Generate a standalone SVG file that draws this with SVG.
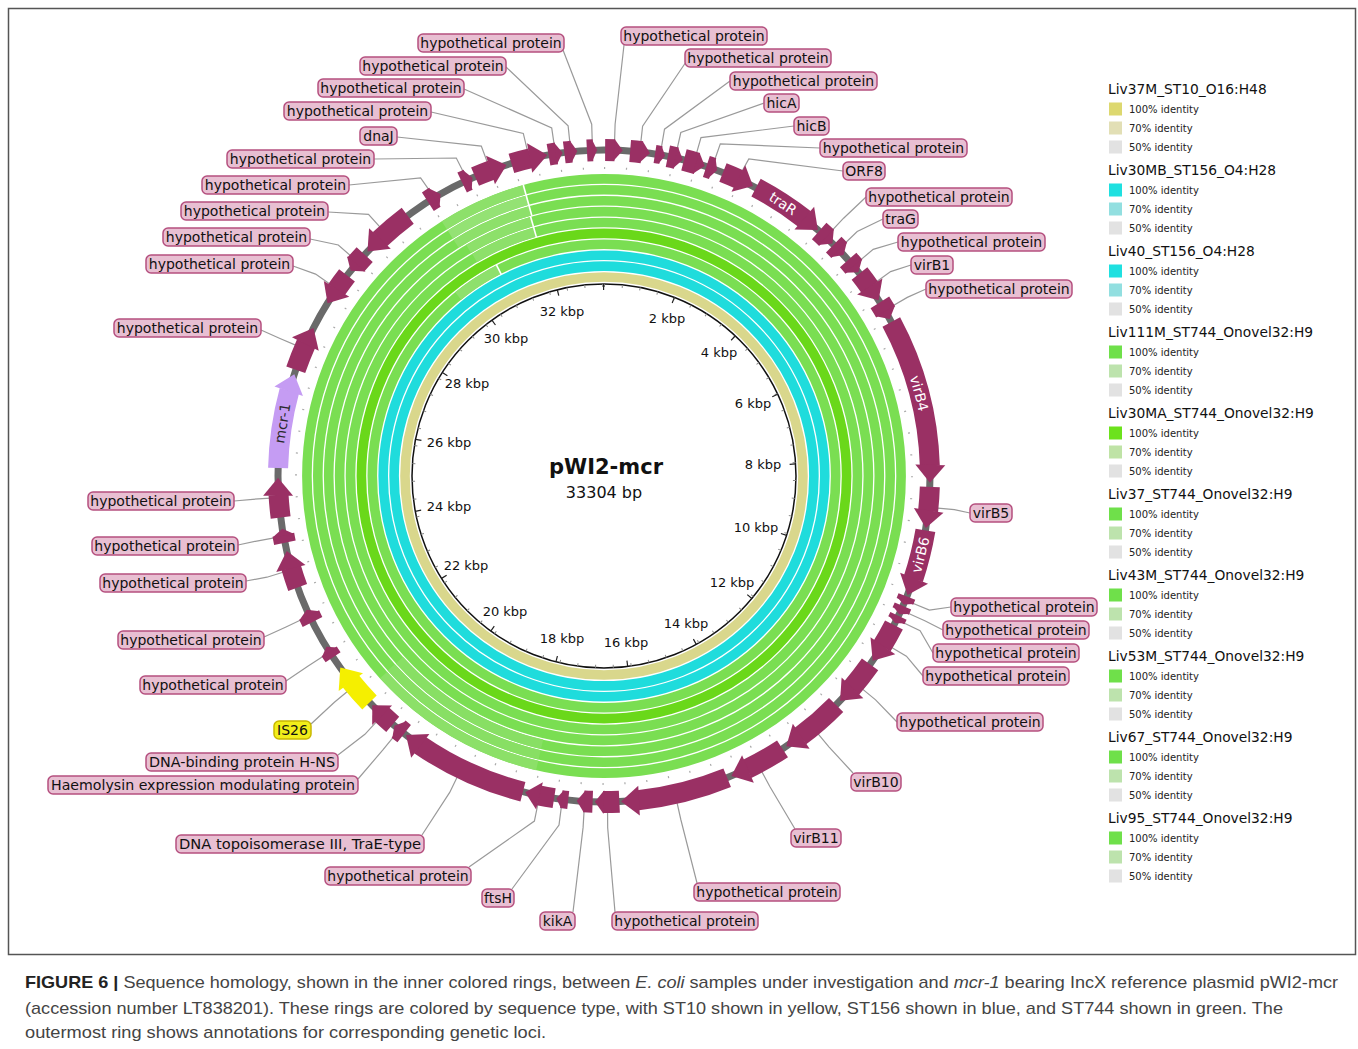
<svg xmlns="http://www.w3.org/2000/svg" xmlns:xlink="http://www.w3.org/1999/xlink" width="1358" height="1049" viewBox="0 0 1358 1049">
<style>
.b{fill:none;stroke:#9a3064;stroke-width:20}
.bs{fill:none;stroke:#9a3064;stroke-width:22}
.bt{fill:none;stroke:#9a3064;stroke-width:18}
.h{fill:#9a3064}
.lr{fill:#e8bfd2;stroke:#b5507f;stroke-width:1.5}
.lt{font-family:"DejaVu Sans",sans-serif;font-size:14px;fill:#111;text-anchor:middle}
.it{font-family:"DejaVu Sans",sans-serif;font-size:14px;fill:#fff;text-anchor:middle}
.cn{fill:none;stroke:#9a9a9a;stroke-width:1.2}
.kb{font-family:"DejaVu Sans",sans-serif;font-size:13px;fill:#111;text-anchor:middle}
.ring{fill:none;stroke-width:9.6}
.lgt{font-family:"DejaVu Sans",sans-serif;font-size:13.8px;fill:#111}
.lgi{font-family:"DejaVu Sans",sans-serif;font-size:10px;fill:#222}
.cap{font-family:"Liberation Sans",Arial,sans-serif;font-size:17px;fill:#444}
</style>
<defs>
<path id="hb" d="M0,-326 L-18,-341 L-18,-311 Z" fill="#9a3064"/>
<path id="hbl" d="M0,-326 L18,-341 L18,-311 Z" fill="#9a3064"/>
<clipPath id="lgclip"><rect x="1100" y="70" width="214" height="830"/></clipPath>
</defs>
<rect x="0" y="0" width="1358" height="1049" fill="#fff"/>
<rect x="8.5" y="8.5" width="1347" height="946" fill="none" stroke="#555" stroke-width="1.5"/>

<!-- rings -->
<g id="rings" transform="translate(604 476)">
<circle class="ring" r="199" stroke="#d9d78c"/>
<circle class="ring" r="209.9" stroke="#1fdcdc"/>
<circle class="ring" r="220.8" stroke="#1fdcdc"/>
<circle class="ring" r="231.7" stroke="#7ade52"/>
<circle class="ring" r="242.6" stroke="#6ad81a"/>
<circle class="ring" r="253.5" stroke="#7ade52"/>
<circle class="ring" r="264.4" stroke="#7ade52"/>
<circle class="ring" r="275.3" stroke="#7ade52"/>
<circle class="ring" r="286.2" stroke="#7ade52"/>
<circle class="ring" r="297.1" stroke="#7ade52"/>
<!-- lighter segments -->
<circle class="ring" r="231.7" stroke="#8ee06c" stroke-dasharray="48.5 3000" transform="rotate(231)"/>
<circle class="ring" r="253.5" stroke="#8de06a" stroke-dasharray="66 3000" transform="rotate(239.3)"/>
<circle class="ring" r="264.4" stroke="#8de06a" stroke-dasharray="69 3000" transform="rotate(239.2)"/>
<circle class="ring" r="275.3" stroke="#8de06a" stroke-dasharray="81.5 3000" transform="rotate(237.5)"/>
<circle class="ring" r="286.2" stroke="#94e274" stroke-dasharray="85 3000" transform="rotate(237.5)"/>
<circle class="ring" r="297.1" stroke="#8de06a" stroke-dasharray="88 3000" transform="rotate(237.5)"/>
<circle class="ring" r="275.3" stroke="#88df64" stroke-dasharray="168 3000" transform="rotate(103)"/>
<circle class="ring" r="286.2" stroke="#88df64" stroke-dasharray="175 3000" transform="rotate(103)"/>
<circle class="ring" r="297.1" stroke="#8ce068" stroke-dasharray="181 3000" transform="rotate(103)"/>
<line x1="0" y1="-270" x2="0" y2="-302" stroke="#fff" stroke-width="1.6" transform="rotate(344.5)"/>
<line x1="0" y1="-248" x2="0" y2="-270" stroke="#fff" stroke-width="1.6" transform="rotate(344.2)"/>
<line x1="0" y1="-226" x2="0" y2="-237" stroke="#fff" stroke-width="1.6" transform="rotate(333)"/>
<!-- inner circle and ticks -->
<circle r="192" fill="none" stroke="#111" stroke-width="1.5"/>
<circle r="190.5" fill="none" stroke="#888" stroke-width="3" stroke-dasharray="1 16.83" transform="rotate(-90)"/>
<circle r="189" fill="none" stroke="#222" stroke-width="6" stroke-dasharray="1.2 70.11" transform="rotate(-90.3)"/>
<circle r="308" fill="none" stroke="#aaa" stroke-width="2" stroke-dasharray="1.2 20.79" transform="rotate(-90)"/>
<!-- backbone -->
<circle r="326" fill="none" stroke="#6a6a6a" stroke-width="7"/>
</g>

<!-- kbp labels -->
<g id="scale">
<text class="kb" x="562" y="315.5">32 kbp</text>
<text class="kb" x="667" y="322.5">2 kbp</text>
<text class="kb" x="506" y="342.5">30 kbp</text>
<text class="kb" x="719" y="356.5">4 kbp</text>
<text class="kb" x="467" y="387.5">28 kbp</text>
<text class="kb" x="753" y="407.5">6 kbp</text>
<text class="kb" x="449" y="446.5">26 kbp</text>
<text class="kb" x="763" y="468.5">8 kbp</text>
<text class="kb" x="449" y="510.5">24 kbp</text>
<text class="kb" x="756" y="531.5">10 kbp</text>
<text class="kb" x="466" y="569.5">22 kbp</text>
<text class="kb" x="732" y="586.5">12 kbp</text>
<text class="kb" x="505" y="615.5">20 kbp</text>
<text class="kb" x="686" y="627.5">14 kbp</text>
<text class="kb" x="562" y="642.5">18 kbp</text>
<text class="kb" x="626" y="646.5">16 kbp</text>
</g>
<g id="title">
<text x="606" y="474" font-family="DejaVu Sans, sans-serif" font-size="21" font-weight="bold" fill="#111" text-anchor="middle">pWI2-mcr</text>
<text x="604" y="498" font-family="DejaVu Sans, sans-serif" font-size="16" fill="#111" text-anchor="middle">33304 bp</text>
</g>

<!-- connectors -->
<g id="connectors">
<polyline class="cn" points="624,45 615.1,124.2 614.4,146.2"/>
<polyline class="cn" points="686,62 642.6,126.1 640.2,147.9"/>
<polyline class="cn" points="730,81 664.5,129.2 660.8,151"/>
<polyline class="cn" points="764,103 680.8,132.5 676,154"/>
<polyline class="cn" points="794,126 701,137.6 694.9,158.8"/>
<polyline class="cn" points="820,148 720.3,143.8 713.1,164.5"/>
<polyline class="cn" points="843,171 748.8,159 739.8,175.2"/>
<polyline class="cn" points="866,197 843.6,218.2 828.6,234.2"/>
<polyline class="cn" points="883,219 857.2,231.5 841.4,246.7"/>
<polyline class="cn" points="898,242 873.2,249.3 856.5,263.4"/>
<polyline class="cn" points="911,265 890.6,271.6 872.7,284.4"/>
<polyline class="cn" points="926,289 907.3,297.4 888.3,308.5"/>
<polyline class="cn" points="970,513 954.4,509.7 932.4,507.6"/>
<polyline class="cn" points="951,607 929.4,610.1 909.1,601.8"/>
<polyline class="cn" points="943,630 924.8,620.8 904.8,611.8"/>
<polyline class="cn" points="933,653 920.1,630.8 900.3,621.2"/>
<polyline class="cn" points="923,676 906.4,656.2 887.5,645"/>
<polyline class="cn" points="897,722 875.6,699.9 858.6,685.9"/>
<polyline class="cn" points="853,773 828.9,746.8 814.8,729.9"/>
<polyline class="cn" points="795,829 769.8,786.5 759.4,767.1"/>
<polyline class="cn" points="697,883 680.8,819.5 676,798"/>
<polyline class="cn" points="615,912 607.7,828 607.5,806"/>
<polyline class="cn" points="573,912 583.1,827.4 584.4,805.4"/>
<polyline class="cn" points="512,889 559,825.1 561.8,803.3"/>
<polyline class="cn" points="469,867 534.4,821.1 538.8,799.5"/>
<polyline class="cn" points="422,835 449.7,792.4 459.4,772.6"/>
<polyline class="cn" points="358,779 382.9,749.9 396.8,732.8"/>
<polyline class="cn" points="338,755 364.9,734.3 379.8,718.2"/>
<polyline class="cn" points="311,724 334.4,702.3 351.3,688.2"/>
<polyline class="cn" points="286,681 307.8,666.2 326.3,654.3"/>
<polyline class="cn" points="264,637 286,627 305.9,617.5"/>
<polyline class="cn" points="246,581 266.9,577.2 287.9,570.8"/>
<polyline class="cn" points="238,545 258,540.8 279.6,536.8"/>
<polyline class="cn" points="234,501 252.8,499.3 274.7,497.8"/>
<polyline class="cn" points="261,330 280,338.5 300.2,347.1"/>
<polyline class="cn" points="293,266 315.6,274.1 333.7,286.7"/>
<polyline class="cn" points="310,239 338.3,245 354.9,259.5"/>
<polyline class="cn" points="328,212 368.5,214.4 383.2,230.7"/>
<polyline class="cn" points="349,185 420.6,178 432.1,194.3"/>
<polyline class="cn" points="374,159 456.3,158 465.6,176.4"/>
<polyline class="cn" points="397,137 481.3,146.1 489,166.7"/>
<polyline class="cn" points="431,112 523.3,133.4 528.4,154.7"/>
<polyline class="cn" points="464,89 551.7,127.9 554.9,149.7"/>
<polyline class="cn" points="506,67 568.1,125.8 570.4,147.7"/>
<polyline class="cn" points="563,50 591.7,124.2 592.4,146.2"/>
</g>

<!-- genes -->
<g id="gene-hp-g">
<circle class="bs" r="326" stroke-dasharray="6.1 3000" transform="translate(604 476) rotate(267)"/>
<path class="h" d="M0,-326 L-5.1,-337 L-5.1,-315Z" transform="translate(604 476) rotate(358.8)"/>
<rect class="lr" x="418" y="34" width="146" height="18" rx="5"/><text class="lt" x="491" y="47.5">hypothetical protein</text>
</g>
<g id="gene-hp-h">
<circle class="bs" r="326" stroke-dasharray="9.8 3000" transform="translate(604 476) rotate(-89.8)"/>
<path class="h" d="M0,-326 L-8.8,-337 L-8.8,-315Z" transform="translate(604 476) rotate(3.3)"/>
<rect class="lr" x="621" y="27" width="146" height="18" rx="5"/><text class="lt" x="694" y="40.5">hypothetical protein</text>
</g>
<g id="gene-hp-i">
<circle class="bs" r="326" stroke-dasharray="11.9 3000" transform="translate(604 476) rotate(-85.4)"/>
<path class="h" d="M0,-326 L-9,-337 L-9,-315Z" transform="translate(604 476) rotate(8.1)"/>
<rect class="lr" x="685" y="49" width="146" height="18" rx="5"/><text class="lt" x="758" y="62.5">hypothetical protein</text>
</g>
<g id="gene-hp-j">
<circle class="bt" r="326" stroke-dasharray="6.1 3000" transform="translate(604 476) rotate(-81)"/>
<path class="h" d="M0,-326 L-5.1,-335 L-5.1,-317Z" transform="translate(604 476) rotate(10.8)"/>
<rect class="lr" x="730" y="72" width="147" height="18" rx="5"/><text class="lt" x="803.5" y="85.5">hypothetical protein</text>
</g>
<g id="gene-hicA">
<circle class="bs" r="326" stroke-dasharray="8.7 3000" transform="translate(604 476) rotate(-78.7)"/>
<path class="h" d="M0,-326 L-7.7,-337 L-7.7,-315Z" transform="translate(604 476) rotate(14)"/>
<rect class="lr" x="764" y="94" width="35" height="18" rx="5"/><text class="lt" x="781.5" y="107.5">hicA</text>
</g>
<g id="gene-hicB">
<circle class="bs" r="326" stroke-dasharray="13.6 3000" transform="translate(604 476) rotate(-75.8)"/>
<path class="h" d="M0,-326 L-9,-337 L-9,-315Z" transform="translate(604 476) rotate(18)"/>
<rect class="lr" x="794" y="117" width="35" height="18" rx="5"/><text class="lt" x="811.5" y="130.5">hicB</text>
</g>
<g id="gene-hp-m">
<circle class="bs" r="326" stroke-dasharray="6.7 3000" transform="translate(604 476) rotate(-71.7)"/>
<path class="h" d="M0,-326 L-5.7,-337 L-5.7,-315Z" transform="translate(604 476) rotate(20.3)"/>
<rect class="lr" x="820" y="139" width="147" height="18" rx="5"/><text class="lt" x="893.5" y="152.5">hypothetical protein</text>
</g>
<g id="gene-ORF8">
<circle class="b" r="326" stroke-dasharray="17.5 3000" transform="translate(604 476) rotate(-68.6)"/>
<path class="h" d="M0,-326 L-16.5,-341 L-16.5,-311Z" transform="translate(604 476) rotate(27.2)"/>
<rect class="lr" x="843" y="162" width="42" height="18" rx="5"/><text class="lt" x="864" y="175.5">ORF8</text>
</g>
<g id="gene-traR">
<circle class="b" r="326" stroke-dasharray="58.1 3000" transform="translate(604 476) rotate(-62.2)"/>
<use href="#hb" transform="translate(604 476) rotate(41)"/>
<text class="it" x="0" y="-321" transform="translate(604 476) rotate(33.3)">traR</text>
</g>
<g id="gene-hp-10">
<circle class="bs" r="326" stroke-dasharray="10.2 3000" transform="translate(604 476) rotate(-48.7)"/>
<path class="h" d="M0,-326 L-9,-337 L-9,-315Z" transform="translate(604 476) rotate(44.5)"/>
<rect class="lr" x="866" y="188" width="146" height="18" rx="5"/><text class="lt" x="939" y="201.5">hypothetical protein</text>
</g>
<g id="gene-traG">
<circle class="bs" r="326" stroke-dasharray="8.1 3000" transform="translate(604 476) rotate(-45.2)"/>
<path class="h" d="M0,-326 L-7.1,-337 L-7.1,-315Z" transform="translate(604 476) rotate(47.3)"/>
<rect class="lr" x="883" y="210" width="35" height="18" rx="5"/><text class="lt" x="900.5" y="223.5">traG</text>
</g>
<g id="gene-hp-12">
<circle class="bs" r="326" stroke-dasharray="8.95 3000" transform="translate(604 476) rotate(-41.5)"/>
<path class="h" d="M0,-326 L-7.95,-337 L-7.95,-315Z" transform="translate(604 476) rotate(51.3)"/>
<rect class="lr" x="898" y="233" width="147" height="18" rx="5"/><text class="lt" x="971.5" y="246.5">hypothetical protein</text>
</g>
<g id="gene-virB1">
<circle class="b" r="326" stroke-dasharray="17.5 3000" transform="translate(604 476) rotate(-38.4)"/>
<path class="h" d="M0,-326 L-16.5,-341 L-16.5,-311Z" transform="translate(604 476) rotate(57.4)"/>
<rect class="lr" x="911" y="256" width="42" height="18" rx="5"/><text class="lt" x="932" y="269.5">virB1</text>
</g>
<g id="gene-hp-14">
<circle class="bs" r="326" stroke-dasharray="11.35 3000" transform="translate(604 476) rotate(-32.2)"/>
<path class="h" d="M0,-326 L-9,-337 L-9,-315Z" transform="translate(604 476) rotate(61.2)"/>
<rect class="lr" x="926" y="280" width="146" height="18" rx="5"/><text class="lt" x="999" y="293.5">hypothetical protein</text>
</g>
<g id="gene-virB4">
<circle class="b" r="326" stroke-dasharray="150.3 3000" transform="translate(604 476) rotate(-28.2)"/>
<use href="#hb" transform="translate(604 476) rotate(91.2)"/>
<text class="it" x="0" y="-321" transform="translate(604 476) rotate(75.3)">virB4</text>
</g>
<g id="gene-virB5">
<circle class="b" r="326" stroke-dasharray="24.5 3000" transform="translate(604 476) rotate(1.9)"/>
<use href="#hb" transform="translate(604 476) rotate(99.2)"/>
<rect class="lr" x="970" y="504" width="42" height="18" rx="5"/><text class="lt" x="991" y="517.5">virB5</text>
</g>
<g id="gene-virB6">
<circle class="b" r="326" stroke-dasharray="50.1 3000" transform="translate(604 476) rotate(9.6)"/>
<use href="#hb" transform="translate(604 476) rotate(111.4)"/>
<text class="it" x="0" y="331" transform="translate(604 476) rotate(-76)">virB6</text>
</g>
<g id="gene-hp-18">
<circle class="bt" r="326" stroke-dasharray="5.3 3000" transform="translate(604 476) rotate(21.7)"/>
<path class="h" d="M0,-326 L-4.3,-335 L-4.3,-317Z" transform="translate(604 476) rotate(113.2)"/>
<rect class="lr" x="951" y="598" width="146" height="18" rx="5"/><text class="lt" x="1024" y="611.5">hypothetical protein</text>
</g>
<g id="gene-hp-19">
<circle class="bt" r="326" stroke-dasharray="5.55 3000" transform="translate(604 476) rotate(23.5)"/>
<path class="h" d="M0,-326 L-4.55,-335 L-4.55,-317Z" transform="translate(604 476) rotate(115.1)"/>
<rect class="lr" x="943" y="621" width="146" height="18" rx="5"/><text class="lt" x="1016" y="634.5">hypothetical protein</text>
</g>
<g id="gene-hp-20">
<circle class="bt" r="326" stroke-dasharray="5 3000" transform="translate(604 476) rotate(25.4)"/>
<path class="h" d="M0,-326 L-4,-335 L-4,-317Z" transform="translate(604 476) rotate(116.8)"/>
<rect class="lr" x="933" y="644" width="146" height="18" rx="5"/><text class="lt" x="1006" y="657.5">hypothetical protein</text>
</g>
<g id="gene-hp-21">
<circle class="b" r="326" stroke-dasharray="24.5 3000" transform="translate(604 476) rotate(27.2)"/>
<use href="#hb" transform="translate(604 476) rotate(124.5)"/>
<rect class="lr" x="923" y="667" width="146" height="18" rx="5"/><text class="lt" x="996" y="680.5">hypothetical protein</text>
</g>
<g id="gene-hp-22">
<circle class="b" r="326" stroke-dasharray="30.2 3000" transform="translate(604 476) rotate(35.3)"/>
<use href="#hb" transform="translate(604 476) rotate(133.6)"/>
<rect class="lr" x="897" y="713" width="146" height="18" rx="5"/><text class="lt" x="970" y="726.5">hypothetical protein</text>
</g>
<g id="gene-virB10">
<circle class="b" r="326" stroke-dasharray="47.9 3000" transform="translate(604 476) rotate(44.6)"/>
<use href="#hb" transform="translate(604 476) rotate(146)"/>
<rect class="lr" x="851" y="773" width="50" height="18" rx="5"/><text class="lt" x="876" y="786.5">virB10</text>
</g>
<g id="gene-virB11">
<circle class="b" r="326" stroke-dasharray="41 3000" transform="translate(604 476) rotate(56.8)"/>
<use href="#hb" transform="translate(604 476) rotate(157)"/>
<rect class="lr" x="791" y="829" width="50" height="18" rx="5"/><text class="lt" x="816" y="842.5">virB11</text>
</g>
<g id="gene-hp-25">
<circle class="b" r="326" stroke-dasharray="92.2 3000" transform="translate(604 476) rotate(67.8)"/>
<use href="#hb" transform="translate(604 476) rotate(177)"/>
<rect class="lr" x="694" y="883" width="146" height="18" rx="5"/><text class="lt" x="767" y="896.5">hypothetical protein</text>
</g>
<g id="gene-hp-26">
<circle class="bs" r="326" stroke-dasharray="16.5 3000" transform="translate(604 476) rotate(87.3)"/>
<path class="h" d="M0,-326 L-9,-338 L-9,-314Z" transform="translate(604 476) rotate(181.6)"/>
<rect class="lr" x="612" y="912" width="146" height="18" rx="5"/><text class="lt" x="685" y="925.5">hypothetical protein</text>
</g>
<g id="gene-kikA">
<circle class="bs" r="326" stroke-dasharray="8.95 3000" transform="translate(604 476) rotate(92)"/>
<path class="h" d="M0,-326 L-7.95,-337 L-7.95,-315Z" transform="translate(604 476) rotate(184.8)"/>
<rect class="lr" x="540" y="912" width="35" height="18" rx="5"/><text class="lt" x="557.5" y="925.5">kikA</text>
</g>
<g id="gene-ftsH">
<circle class="bt" r="326" stroke-dasharray="7 3000" transform="translate(604 476) rotate(96.3)"/>
<path class="h" d="M0,-326 L-6,-335 L-6,-317Z" transform="translate(604 476) rotate(188.4)"/>
<rect class="lr" x="482" y="889" width="32" height="18" rx="5"/><text class="lt" x="498" y="902.5">ftsH</text>
</g>
<g id="gene-hp-30">
<circle class="b" r="326" stroke-dasharray="15.8 3000" transform="translate(604 476) rotate(98.8)"/>
<path class="h" d="M0,-326 L-14.8,-340 L-14.8,-312Z" transform="translate(604 476) rotate(194)"/>
<rect class="lr" x="325" y="867" width="146" height="18" rx="5"/><text class="lt" x="398" y="880.5">hypothetical protein</text>
</g>
<g id="gene-topo">
<circle class="b" r="326" stroke-dasharray="113.9 3000" transform="translate(604 476) rotate(104.4)"/>
<use href="#hb" transform="translate(604 476) rotate(217.4)"/>
<rect class="lr" x="176" y="835" width="248" height="18" rx="5"/><text class="lt" x="300" y="848.5" textLength="242" lengthAdjust="spacingAndGlyphs">DNA topoisomerase III, TraE-type</text>
</g>
<g id="gene-haem">
<circle class="bs" r="326" stroke-dasharray="7.3 3000" transform="translate(604 476) rotate(127.8)"/>
<path class="h" d="M0,-326 L-6.3,-337 L-6.3,-315Z" transform="translate(604 476) rotate(220)"/>
<rect class="lr" x="48" y="776" width="310" height="18" rx="5"/><text class="lt" x="203" y="789.5" textLength="304" lengthAdjust="spacingAndGlyphs">Haemolysin expression modulating protein</text>
</g>
<g id="gene-hns">
<circle class="b" r="326" stroke-dasharray="14.9 3000" transform="translate(604 476) rotate(130.4)"/>
<path class="h" d="M0,-326 L-14,-340 L-14,-312Z" transform="translate(604 476) rotate(225.3)"/>
<rect class="lr" x="146" y="753" width="192" height="18" rx="5"/><text class="lt" x="242" y="766.5" textLength="186" lengthAdjust="spacingAndGlyphs">DNA-binding protein H-NS</text>
</g>
<g id="gene-IS26">
<circle r="326" fill="none" stroke="#f5ef00" stroke-width="20" stroke-dasharray="28.5 3000" transform="translate(604 476) rotate(136)"/>
<path d="M0,-326 L-18,-341 L-18,-311 Z" fill="#f5ef00" transform="translate(604 476) rotate(234)"/>
<rect x="274" y="721" width="37" height="18" rx="5" fill="#f2ee1a" stroke="#c9b800" stroke-width="1.5"/><text class="lt" x="292.5" y="734.5">IS26</text>
</g>
<g id="gene-hp-36">
<circle class="bt" r="326" stroke-dasharray="7.3 3000" transform="translate(604 476) rotate(146.2)"/>
<path class="h" d="M0,-326 L-6.3,-335 L-6.3,-317Z" transform="translate(604 476) rotate(238.4)"/>
<rect class="lr" x="140" y="676" width="146" height="18" rx="5"/><text class="lt" x="213" y="689.5">hypothetical protein</text>
</g>
<g id="gene-hp-37">
<circle class="bs" r="326" stroke-dasharray="7.8 3000" transform="translate(604 476) rotate(153.4)"/>
<path class="h" d="M0,-326 L-6.8,-337 L-6.8,-315Z" transform="translate(604 476) rotate(245.8)"/>
<rect class="lr" x="118" y="631" width="146" height="18" rx="5"/><text class="lt" x="191" y="644.5">hypothetical protein</text>
</g>
<g id="gene-hp-38">
<circle class="b" r="326" stroke-dasharray="21.1 3000" transform="translate(604 476) rotate(160)"/>
<use href="#hb" transform="translate(604 476) rotate(256.7)"/>
<rect class="lr" x="100" y="574" width="146" height="18" rx="5"/><text class="lt" x="173" y="587.5">hypothetical protein</text>
</g>
<g id="gene-hp-39">
<circle class="bs" r="326" stroke-dasharray="8.1 3000" transform="translate(604 476) rotate(168.2)"/>
<path class="h" d="M0,-326 L-7.1,-337 L-7.1,-315Z" transform="translate(604 476) rotate(260.7)"/>
<rect class="lr" x="92" y="537" width="146" height="18" rx="5"/><text class="lt" x="165" y="550.5">hypothetical protein</text>
</g>
<g id="gene-hp-40">
<circle class="b" r="326" stroke-dasharray="22.8 3000" transform="translate(604 476) rotate(172.7)"/>
<use href="#hb" transform="translate(604 476) rotate(269.7)"/>
<rect class="lr" x="88" y="492" width="146" height="18" rx="5"/><text class="lt" x="161" y="505.5">hypothetical protein</text>
</g>
<g id="gene-mcr1">
<circle r="326" fill="none" stroke="#c59cf3" stroke-width="20" stroke-dasharray="78.6 3000" transform="translate(604 476) rotate(181.4)"/>
<path d="M0,-326 L-18,-341 L-18,-311 Z" fill="#c59cf3" transform="translate(604 476) rotate(288.2)"/>
<text x="0" y="-321" font-family="DejaVu Sans, sans-serif" font-size="14" fill="#2a2a2a" text-anchor="middle" transform="translate(604 476) rotate(279.3)">mcr-1</text>
</g>
<g id="gene-hp-42">
<circle class="b" r="326" stroke-dasharray="28.5 3000" transform="translate(604 476) rotate(199)"/>
<use href="#hb" transform="translate(604 476) rotate(297)"/>
<rect class="lr" x="114" y="319" width="147" height="18" rx="5"/><text class="lt" x="187.5" y="332.5">hypothetical protein</text>
</g>
<g id="gene-hp-43">
<circle class="b" r="326" stroke-dasharray="18.05 3000" transform="translate(604 476) rotate(214.82)"/>
<path class="h" d="M0,-326 L17,-341 L17,-311Z" transform="translate(604 476) rotate(302)"/>
<rect class="lr" x="146" y="255" width="147" height="18" rx="5"/><text class="lt" x="219.5" y="268.5">hypothetical protein</text>
</g>
<g id="gene-hp-44">
<circle class="bs" r="326" stroke-dasharray="13.6 3000" transform="translate(604 476) rotate(220.4)"/>
<path class="h" d="M0,-326 L9,-338 L9,-314Z" transform="translate(604 476) rotate(309)"/>
<rect class="lr" x="163" y="228" width="147" height="18" rx="5"/><text class="lt" x="236.5" y="241.5">hypothetical protein</text>
</g>
<g id="gene-hp-45">
<circle class="b" r="326" stroke-dasharray="37 3000" transform="translate(604 476) rotate(226.49)"/>
<use href="#hbl" transform="translate(604 476) rotate(313.5)"/>
<rect class="lr" x="181" y="202" width="147" height="18" rx="5"/><text class="lt" x="254.5" y="215.5">hypothetical protein</text>
</g>
<g id="gene-hp-46">
<circle class="bs" r="326" stroke-dasharray="8.4 3000" transform="translate(604 476) rotate(237.3)"/>
<path class="h" d="M0,-326 L-7.4,-337 L-7.4,-315Z" transform="translate(604 476) rotate(329.9)"/>
<rect class="lr" x="202" y="176" width="147" height="18" rx="5"/><text class="lt" x="275.5" y="189.5">hypothetical protein</text>
</g>
<g id="gene-hp-47">
<circle class="bs" r="326" stroke-dasharray="6.7 3000" transform="translate(604 476) rotate(244.2)"/>
<path class="h" d="M0,-326 L-5.7,-337 L-5.7,-315Z" transform="translate(604 476) rotate(336.2)"/>
<rect class="lr" x="227" y="150" width="147" height="18" rx="5"/><text class="lt" x="300.5" y="163.5">hypothetical protein</text>
</g>
<g id="gene-dnaJ">
<circle class="b" r="326" stroke-dasharray="17.8 3000" transform="translate(604 476) rotate(246.7)"/>
<path class="h" d="M0,-326 L-16.8,-341 L-16.8,-311Z" transform="translate(604 476) rotate(342.6)"/>
<rect class="lr" x="360" y="127" width="37" height="18" rx="5"/><text class="lt" x="378.5" y="140.5">dnaJ</text>
</g>
<g id="gene-hp-49">
<circle class="b" r="326" stroke-dasharray="20 3000" transform="translate(604 476) rotate(253.5)"/>
<use href="#hb" transform="translate(604 476) rotate(350)"/>
<rect class="lr" x="284" y="102" width="147" height="18" rx="5"/><text class="lt" x="357.5" y="115.5">hypothetical protein</text>
</g>
<g id="gene-hp-50">
<circle class="bs" r="326" stroke-dasharray="8.1 3000" transform="translate(604 476) rotate(260.2)"/>
<path class="h" d="M0,-326 L-7.1,-337 L-7.1,-315Z" transform="translate(604 476) rotate(352.7)"/>
<rect class="lr" x="318" y="79" width="146" height="18" rx="5"/><text class="lt" x="391" y="92.5">hypothetical protein</text>
</g>
<g id="gene-hp-51">
<circle class="bs" r="326" stroke-dasharray="7.5 3000" transform="translate(604 476) rotate(263)"/>
<path class="h" d="M0,-326 L-6.5,-337 L-6.5,-315Z" transform="translate(604 476) rotate(355.3)"/>
<rect class="lr" x="360" y="57" width="146" height="18" rx="5"/><text class="lt" x="433" y="70.5">hypothetical protein</text>
</g>

<!-- legend -->
<g id="legend" clip-path="url(#lgclip)">
<g id="lg1"><text class="lgt" x="1108" y="94">Liv37M_ST10_O16:H48</text>
<rect x="1109" y="102.5" width="13" height="13" fill="#ddd86f"/><text class="lgi" x="1129" y="112.5">100% identity</text>
<rect x="1109" y="121.5" width="13" height="13" fill="#e2dfb5"/><text class="lgi" x="1129" y="131.5">70% identity</text>
<rect x="1109" y="140.5" width="13" height="13" fill="#e2e2e2"/><text class="lgi" x="1129" y="150.5">50% identity</text></g>
<g id="lg2"><text class="lgt" x="1108" y="175">Liv30MB_ST156_O4:H28</text>
<rect x="1109" y="183.5" width="13" height="13" fill="#1fe0e0"/><text class="lgi" x="1129" y="193.5">100% identity</text>
<rect x="1109" y="202.5" width="13" height="13" fill="#92dfe0"/><text class="lgi" x="1129" y="212.5">70% identity</text>
<rect x="1109" y="221.5" width="13" height="13" fill="#e2e2e2"/><text class="lgi" x="1129" y="231.5">50% identity</text></g>
<g id="lg3"><text class="lgt" x="1108" y="256">Liv40_ST156_O4:H28</text>
<rect x="1109" y="264.5" width="13" height="13" fill="#1fe0e0"/><text class="lgi" x="1129" y="274.5">100% identity</text>
<rect x="1109" y="283.5" width="13" height="13" fill="#92dfe0"/><text class="lgi" x="1129" y="293.5">70% identity</text>
<rect x="1109" y="302.5" width="13" height="13" fill="#e2e2e2"/><text class="lgi" x="1129" y="312.5">50% identity</text></g>
<g id="lg4"><text class="lgt" x="1108" y="337">Liv111M_ST744_Onovel32:H9</text>
<rect x="1109" y="345.5" width="13" height="13" fill="#6fe04a"/><text class="lgi" x="1129" y="355.5">100% identity</text>
<rect x="1109" y="364.5" width="13" height="13" fill="#bde3ad"/><text class="lgi" x="1129" y="374.5">70% identity</text>
<rect x="1109" y="383.5" width="13" height="13" fill="#e2e2e2"/><text class="lgi" x="1129" y="393.5">50% identity</text></g>
<g id="lg5"><text class="lgt" x="1108" y="418">Liv30MA_ST744_Onovel32:H9</text>
<rect x="1109" y="426.5" width="13" height="13" fill="#6ce21c"/><text class="lgi" x="1129" y="436.5">100% identity</text>
<rect x="1109" y="445.5" width="13" height="13" fill="#bfe3a6"/><text class="lgi" x="1129" y="455.5">70% identity</text>
<rect x="1109" y="464.5" width="13" height="13" fill="#e2e2e2"/><text class="lgi" x="1129" y="474.5">50% identity</text></g>
<g id="lg6"><text class="lgt" x="1108" y="499">Liv37_ST744_Onovel32:H9</text>
<rect x="1109" y="507.5" width="13" height="13" fill="#6fe04a"/><text class="lgi" x="1129" y="517.5">100% identity</text>
<rect x="1109" y="526.5" width="13" height="13" fill="#bde3ad"/><text class="lgi" x="1129" y="536.5">70% identity</text>
<rect x="1109" y="545.5" width="13" height="13" fill="#e2e2e2"/><text class="lgi" x="1129" y="555.5">50% identity</text></g>
<g id="lg7"><text class="lgt" x="1108" y="580">Liv43M_ST744_Onovel32:H9</text>
<rect x="1109" y="588.5" width="13" height="13" fill="#6fe04a"/><text class="lgi" x="1129" y="598.5">100% identity</text>
<rect x="1109" y="607.5" width="13" height="13" fill="#bde3ad"/><text class="lgi" x="1129" y="617.5">70% identity</text>
<rect x="1109" y="626.5" width="13" height="13" fill="#e2e2e2"/><text class="lgi" x="1129" y="636.5">50% identity</text></g>
<g id="lg8"><text class="lgt" x="1108" y="661">Liv53M_ST744_Onovel32:H9</text>
<rect x="1109" y="669.5" width="13" height="13" fill="#6fe04a"/><text class="lgi" x="1129" y="679.5">100% identity</text>
<rect x="1109" y="688.5" width="13" height="13" fill="#bde3ad"/><text class="lgi" x="1129" y="698.5">70% identity</text>
<rect x="1109" y="707.5" width="13" height="13" fill="#e2e2e2"/><text class="lgi" x="1129" y="717.5">50% identity</text></g>
<g id="lg9"><text class="lgt" x="1108" y="742">Liv67_ST744_Onovel32:H9</text>
<rect x="1109" y="750.5" width="13" height="13" fill="#6fe04a"/><text class="lgi" x="1129" y="760.5">100% identity</text>
<rect x="1109" y="769.5" width="13" height="13" fill="#bde3ad"/><text class="lgi" x="1129" y="779.5">70% identity</text>
<rect x="1109" y="788.5" width="13" height="13" fill="#e2e2e2"/><text class="lgi" x="1129" y="798.5">50% identity</text></g>
<g id="lg10"><text class="lgt" x="1108" y="823">Liv95_ST744_Onovel32:H9</text>
<rect x="1109" y="831.5" width="13" height="13" fill="#6fe04a"/><text class="lgi" x="1129" y="841.5">100% identity</text>
<rect x="1109" y="850.5" width="13" height="13" fill="#bde3ad"/><text class="lgi" x="1129" y="860.5">70% identity</text>
<rect x="1109" y="869.5" width="13" height="13" fill="#e2e2e2"/><text class="lgi" x="1129" y="879.5">50% identity</text></g>
</g>

<!-- caption -->
<g id="caption">
<text class="cap" x="25" y="988" textLength="1313" lengthAdjust="spacingAndGlyphs"><tspan font-weight="bold" fill="#222">FIGURE 6 |</tspan> Sequence homology, shown in the inner colored rings, between <tspan font-style="italic">E. coli</tspan> samples under investigation and <tspan font-style="italic">mcr-1</tspan> bearing IncX reference plasmid pWI2-mcr</text>
<text class="cap" x="25" y="1014" textLength="1258" lengthAdjust="spacingAndGlyphs">(accession number LT838201). These rings are colored by sequence type, with ST10 shown in yellow, ST156 shown in blue, and ST744 shown in green. The</text>
<text class="cap" x="25" y="1038" textLength="521" lengthAdjust="spacingAndGlyphs">outermost ring shows annotations for corresponding genetic loci.</text>
</g>
</svg>
